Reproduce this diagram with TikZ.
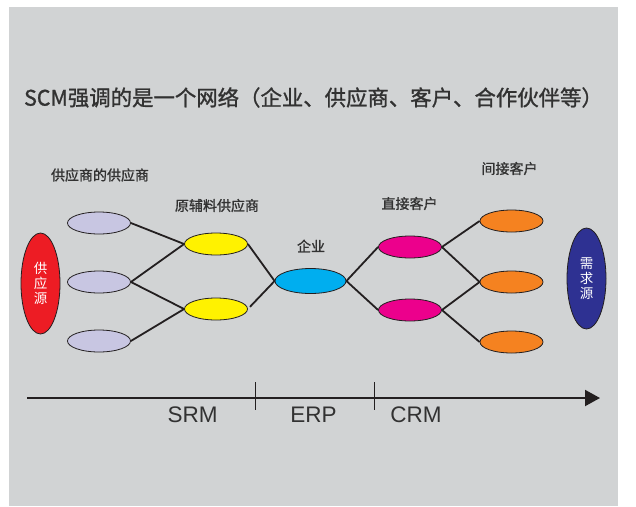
\documentclass[tikz,border=0pt]{standalone}
\usepackage{fontspec}
\setmainfont{Liberation Sans}
\newfontfamily\cjk[FakeBold=1.2]{Noto Sans CJK SC}
\newfontfamily\cjkw{Noto Sans CJK SC}
\usetikzlibrary{shapes.geometric,arrows.meta}
\definecolor{bgray}{RGB}{209,211,212}
\definecolor{clav}{RGB}{200,198,226}
\definecolor{cyel}{RGB}{255,242,0}
\definecolor{cblu}{RGB}{0,174,239}
\definecolor{cmag}{RGB}{236,0,140}
\definecolor{cora}{RGB}{245,130,32}
\definecolor{cred}{RGB}{237,28,36}
\definecolor{cnavy}{RGB}{46,49,146}
\definecolor{ctxt}{RGB}{50,50,50}
\definecolor{cline}{RGB}{35,31,32}
\tikzset{
  nd/.style={ellipse, draw=cline, line width=0.8pt, minimum width=63pt, minimum height=22pt, inner sep=0pt},
  srcnode/.style={ellipse, draw=cline, line width=0.8pt, minimum width=39pt, minimum height=101pt, inner sep=0pt, text=white, align=center, font=\cjkw\fontsize{13.5}{15}\selectfont},
  lbl/.style={text=ctxt, inner sep=0pt, font=\cjk\fontsize{14}{16}\selectfont},
  conn/.style={draw=cline, line width=1.8pt},
  axlbl/.style={text=ctxt, inner sep=0pt, font=\fontsize{22.5}{26}\selectfont},
}
\begin{document}
\begin{tikzpicture}[x=1pt,y=-1pt]
\useasboundingbox[fill=white] (0,0) rectangle (636,506);
\fill[bgray] (9,7) rectangle (618,506);

\node[text=ctxt, inner sep=0pt, font=\cjk\fontsize{21.4}{24}\selectfont] (title) at (313.5,97.5) {SCM强调的是一个网络（企业、供应商、客户、合作伙伴等）};

\node[lbl] (l1) at (100,175) {供应商的供应商};
\node[lbl] (l2) at (217,205.5) {原辅料供应商};
\node[lbl] (l3) at (311,246) {企业};
\node[lbl] (l4) at (409.5,203.5) {直接客户};
\node[lbl] (l5) at (509.5,168.5) {间接客户};

\node[srcnode, fill=cred] (sup) at (40.5,283.5) {供\\应\\源};
\node[srcnode, fill=cnavy] (dem) at (586.5,278.5) {需\\求\\源};

\node[nd, fill=clav] (a1) at (99,223) {};
\node[nd, fill=clav] (a2) at (99,282) {};
\node[nd, fill=clav] (a3) at (99,341) {};
\node[nd, fill=cyel] (b1) at (216,244) {};
\node[nd, fill=cyel] (b2) at (216,309) {};
\node[nd, fill=cblu, minimum width=71pt, minimum height=25pt] (c) at (310.5,281) {};
\node[nd, fill=cmag] (d1) at (410,247) {};
\node[nd, fill=cmag] (d2) at (410,310) {};
\node[nd, fill=cora] (e1) at (511.5,221) {};
\node[nd, fill=cora] (e2) at (511.5,282) {};
\node[nd, fill=cora] (e3) at (511.5,342) {};

\draw[conn] (a1.east) -- (b1.west);
\draw[conn] (a2.east) -- (b1.west);
\draw[conn] (a2.east) -- (b2.west);
\draw[conn] (a3.east) -- (b2.west);
\draw[conn] (b1.east) -- (c.west);
\draw[conn, shorten <=3pt] (b2.east) -- (c.west);
\draw[conn] (c.east) -- (d1.west);
\draw[conn] (c.east) -- (d2.west);
\draw[conn] (d1.east) -- (e1.west);
\draw[conn] (d1.east) -- (e2.west);
\draw[conn] (d2.east) -- (e2.west);
\draw[conn] (d2.east) -- (e3.west);

\coordinate (axs) at (27,398);
\coordinate (axe) at (600,398);
\draw[draw=cline, fill=cline, line width=2pt, -{Triangle[length=15pt,width=16pt]}] (axs) -- (axe);
\coordinate (t1a) at (255.5,382);
\coordinate (t1b) at (255.5,410);
\coordinate (t2a) at (374.5,382);
\coordinate (t2b) at (374.5,410);
\draw[draw=cline, line width=1pt] (t1a) -- (t1b);
\draw[draw=cline, line width=1pt] (t2a) -- (t2b);

\node[axlbl] (srm) at (192.5,415) {SRM};
\node[axlbl] (erp) at (313.5,415) {ERP};
\node[axlbl] (crm) at (416,415) {CRM};
\end{tikzpicture}
\end{document}
